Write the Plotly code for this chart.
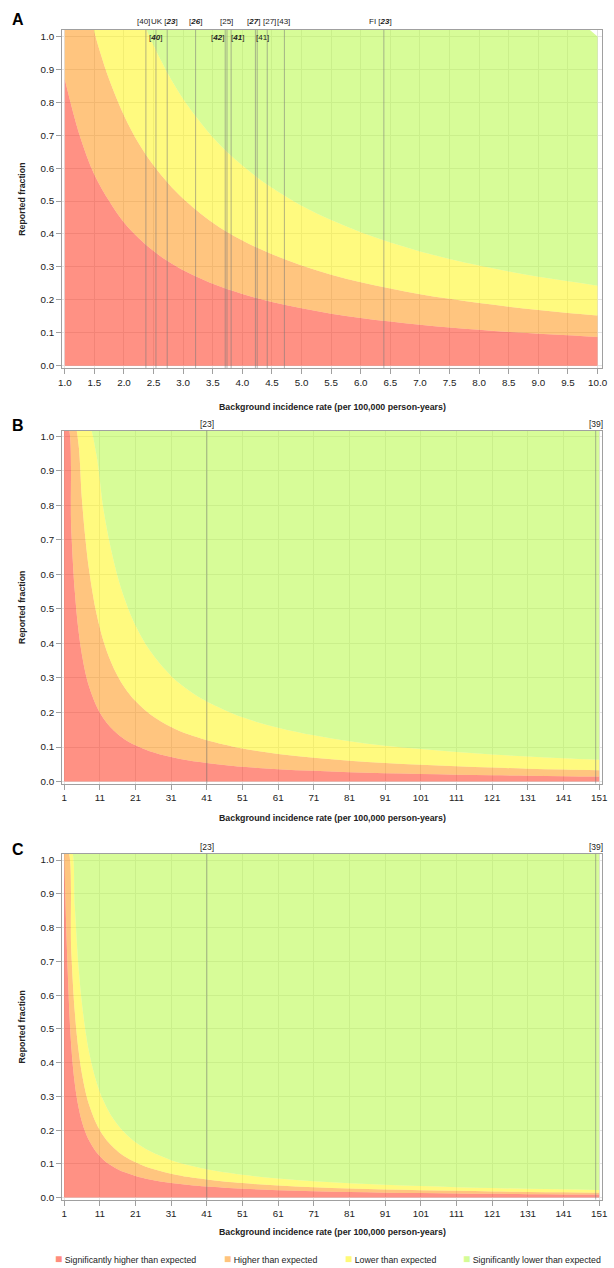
import plotly.graph_objects as go

# ------------------------------------------------------------------ data
# Panel A: background incidence rate 1-10 (upper edge of each category band)
A_sig_high_rate = [1.0, 1.25, 1.5, 1.75, 2.0, 2.25, 2.5, 2.75, 3.0, 3.5, 4.0, 4.5, 5.0,
                   5.5, 6.0, 6.5, 7.0, 7.5, 8.0, 8.5, 9.0, 9.5, 10.0]
A_sig_high = [0.87, 0.70, 0.58, 0.50, 0.435, 0.387, 0.348, 0.316, 0.29, 0.249, 0.218,
              0.193, 0.174, 0.158, 0.145, 0.134, 0.124, 0.116, 0.109, 0.102, 0.097,
              0.092, 0.087]
A_high_rate = [1.0, 1.45, 1.5, 1.6, 1.75, 2.0, 2.25, 2.5, 2.75, 3.0, 3.5, 4.0, 4.5, 5.0,
               5.5, 6.0, 6.5, 7.0, 7.5, 8.0, 8.5, 9.0, 9.5, 10.0]
A_high = [1.05, 1.05, 1.013, 0.95, 0.869, 0.76, 0.675, 0.608, 0.553, 0.507, 0.434, 0.38,
          0.338, 0.304, 0.276, 0.253, 0.234, 0.217, 0.203, 0.19, 0.179, 0.169, 0.16, 0.152]
A_low_rate = [1.0, 2.3, 2.4, 2.5, 2.75, 3.0, 3.5, 4.0, 4.5, 5.0, 5.5, 6.0, 6.5, 7.0,
              7.5, 8.0, 8.5, 9.0, 9.5, 10.0]
A_low = [1.057, 1.057, 1.0125, 0.972, 0.884, 0.81, 0.694, 0.608, 0.54, 0.486, 0.442,
         0.405, 0.374, 0.347, 0.324, 0.304, 0.286, 0.27, 0.256, 0.243]
A_top_rate = [1.0, 9.8, 10.0]
A_top = [1.03, 1.03, 1.0]

A_ref_rate = [2.37, 2.54, 2.73, 3.21, 3.71, 3.74, 3.81, 4.22, 4.25, 4.42, 4.71, 6.39]
A_ref_label = ["[40]", "[<b><i>40</i></b>]", "UK [<b><i>23</i></b>]", "[<b><i>26</i></b>]",
               "[<b><i>42</i></b>]", "[25]", "[<b><i>41</i></b>]", "[<b><i>27</i></b>]",
               "[41]", "[27]", "[43]", "FI [<b><i>23</i></b>]"]
A_ref_row = [1, 2, 1, 1, 2, 1, 2, 1, 2, 1, 1, 1]

# Panels B and C: background incidence rate 1-151
BC_rate = [1, 2, 3, 4, 5, 6, 7, 8, 10, 12, 14, 16, 18, 21, 25, 31, 36, 41, 51, 61,
           71, 81, 91, 101, 111, 121, 131, 141, 151]
B_sig_high = [1.03, 1.03, 0.733, 0.55, 0.44, 0.367, 0.314, 0.275, 0.22, 0.183, 0.157,
              0.1375, 0.122, 0.105, 0.088, 0.071, 0.061, 0.054, 0.043, 0.036, 0.031,
              0.027, 0.024, 0.022, 0.02, 0.018, 0.017, 0.0156, 0.0146]
B_high = [1.03, 1.03, 1.03, 1.03, 0.98, 0.817, 0.70, 0.6125, 0.49, 0.408, 0.35, 0.306,
          0.272, 0.233, 0.196, 0.158, 0.136, 0.12, 0.096, 0.08, 0.069, 0.0605, 0.054,
          0.0485, 0.044, 0.0405, 0.0374, 0.0348, 0.0325]
B_low = [1.03, 1.03, 1.03, 1.03, 1.03, 1.03, 1.03, 1.03, 0.95, 0.79, 0.68, 0.594,
         0.528, 0.452, 0.38, 0.306, 0.264, 0.232, 0.186, 0.156, 0.134, 0.117, 0.104,
         0.094, 0.0856, 0.0785, 0.0725, 0.0674, 0.063]
C_sig_high = [1.03, 0.675, 0.45, 0.3375, 0.27, 0.225, 0.193, 0.169, 0.135, 0.1125,
              0.0964, 0.0844, 0.075, 0.0643, 0.054, 0.0435, 0.0375, 0.033, 0.0265,
              0.0221, 0.019, 0.0167, 0.0148, 0.0134, 0.0122, 0.0112, 0.0103, 0.0096, 0.0089]
C_high = [1.03, 1.03, 0.733, 0.55, 0.44, 0.367, 0.314, 0.275, 0.22, 0.183, 0.157,
          0.1375, 0.122, 0.105, 0.088, 0.071, 0.061, 0.054, 0.043, 0.036, 0.031,
          0.027, 0.024, 0.022, 0.02, 0.018, 0.017, 0.0156, 0.0146]
C_low = [1.03, 1.03, 1.03, 0.8625, 0.69, 0.575, 0.493, 0.431, 0.345, 0.2875, 0.246,
         0.216, 0.192, 0.164, 0.138, 0.111, 0.096, 0.084, 0.0676, 0.0566, 0.0486,
         0.0426, 0.0379, 0.0342, 0.0311, 0.0285, 0.0263, 0.0245, 0.0228]
BC_top_rate = [1, 151]
BC_top = [1.03, 1.03]
BC_ref_rate = [41, 150]
BC_ref_label = ["[23]", "[39]"]

A_ticks = [1.0, 1.5, 2.0, 2.5, 3.0, 3.5, 4.0, 4.5, 5.0, 5.5, 6.0, 6.5, 7.0, 7.5,
           8.0, 8.5, 9.0, 9.5, 10.0]
BC_ticks = [1, 11, 21, 31, 41, 51, 61, 71, 81, 91, 101, 111, 121, 131, 141, 151]
Y_ticks = [0.0, 0.1, 0.2, 0.3, 0.4, 0.5, 0.6, 0.7, 0.8, 0.9, 1.0]

categories = ["Significantly higher than expected", "Higher than expected",
              "Lower than expected", "Significantly lower than expected"]

# ------------------------------------------------------------------ style
COLORS = ["rgba(255,35,10,0.5)", "rgba(255,140,0,0.5)",
          "rgba(255,245,0,0.5)", "rgba(175,250,50,0.5)"]
SOLID = ["rgb(255,140,125)", "rgb(255,195,125)", "rgb(255,250,120)", "rgb(212,252,150)"]
FONT = "Liberation Sans, Arial, sans-serif"
TXT = "#222"
W, H = 614, 1268

fig = go.Figure()


def add_panel(n, bands, top_rate, top):
    xa, ya = ("x", "y") if n == 1 else (f"x{n}", f"y{n}")
    for i, (r, b) in enumerate(bands):
        fig.add_trace(go.Scatter(
            x=r, y=b, mode="lines", line=dict(width=0, shape="spline", smoothing=1),
            fill="tozeroy" if i == 0 else "tonexty", fillcolor=COLORS[i],
            name=categories[i], showlegend=False, xaxis=xa, yaxis=ya, hoverinfo="skip"))
    fig.add_trace(go.Scatter(
        x=top_rate, y=top, mode="lines", line=dict(width=0), fill="tonexty",
        fillcolor=COLORS[3], name=categories[3], showlegend=False,
        xaxis=xa, yaxis=ya, hoverinfo="skip"))


add_panel(1, [(A_sig_high_rate, A_sig_high), (A_high_rate, A_high), (A_low_rate, A_low)],
          A_top_rate, A_top)
add_panel(2, [(BC_rate, B_sig_high), (BC_rate, B_high), (BC_rate, B_low)],
          BC_top_rate, BC_top)
add_panel(3, [(BC_rate, C_sig_high), (BC_rate, C_high), (BC_rate, C_low)],
          BC_top_rate, BC_top)

# panel frames in pixels
panels = {
    1: dict(top=30, bottom=369, xr=[0.955, 10.077], yr=[-0.0075, 1.0196], ticks=A_ticks, fmt=".1f"),
    2: dict(top=431.7, bottom=785.5, xr=[0.45, 151.8], yr=[-0.006, 1.016], ticks=BC_ticks, fmt="d"),
    3: dict(top=856, bottom=1202.5, xr=[0.45, 151.8], yr=[-0.006, 1.018], ticks=BC_ticks, fmt="d"),
}
LEFT, RIGHT = 59, 607

axis_common = dict(showline=True, linecolor="#a0a0a0", linewidth=1, mirror=True,
                   ticks="outside", ticklen=5, tickcolor="#a0a0a0",
                   showgrid=True, gridcolor="#e4e4e4", gridwidth=1, zeroline=False,
                   tickfont=dict(family=FONT, size=9.8, color=TXT))

layout = dict(width=W, height=H, margin=dict(l=0, r=0, t=0, b=0),
              paper_bgcolor="white", plot_bgcolor="white", showlegend=False,
              font=dict(family=FONT, color=TXT))
for n, p in panels.items():
    sx = "" if n == 1 else str(n)
    layout[f"xaxis{sx}"] = dict(axis_common, domain=[LEFT / W, RIGHT / W], range=p["xr"],
                                tickvals=p["ticks"], tickformat=p["fmt"],
                                anchor=f"y{sx}")
    layout[f"yaxis{sx}"] = dict(axis_common, domain=[1 - p["bottom"] / H, 1 - p["top"] / H],
                                range=p["yr"], tickvals=Y_ticks, tickformat=".1f",
                                anchor=f"x{sx}")
fig.update_layout(**layout)

# reference lines
for v in A_ref_rate:
    fig.add_shape(type="line", x0=v, x1=v, y0=0, y1=1, xref="x", yref="y domain",
                  line=dict(color="rgba(120,120,120,0.55)", width=1))
for n in (2, 3):
    for v in BC_ref_rate:
        fig.add_shape(type="line", x0=v, x1=v, y0=0, y1=1, xref=f"x{n}", yref=f"y{n} domain",
                      line=dict(color="rgba(120,120,120,0.55)", width=1))

ann = []
A_label_shift = [-2, 0, -3, 0, -8, 0, 6, -2, 5, 2, -1, -3]
for v, lab, row, dx in zip(A_ref_rate, A_ref_label, A_ref_row, A_label_shift):
    ann.append(dict(x=v, y=1, xref="x", yref="y domain", text=lab, showarrow=False,
                    xanchor="center", yanchor="middle", xshift=dx,
                    yshift=8 if row == 1 else -8,
                    font=dict(family=FONT, size=8, color=TXT)))
for n in (2, 3):
    for v, lab in zip(BC_ref_rate, BC_ref_label):
        ann.append(dict(x=v, y=1, xref=f"x{n}", yref=f"y{n} domain", text=lab,
                        showarrow=False, xanchor="center", yanchor="middle", yshift=7,
                        font=dict(family=FONT, size=8.5, color=TXT)))

# panel letters, axis titles
letters = [("A", 20), ("B", 427), ("C", 852)]
for t, ypx in letters:
    ann.append(dict(x=14 / W, y=1 - ypx / H, xref="paper", yref="paper", text=f"<b>{t}</b>",
                    showarrow=False, xanchor="center", yanchor="middle",
                    font=dict(family=FONT, size=16, color="#000")))
xtitle_y = {1: 408, 2: 820, 3: 1235}
for n, p in panels.items():
    ann.append(dict(x=(LEFT + RIGHT) / 2 / W, y=1 - xtitle_y[n] / H, xref="paper", yref="paper",
                    text="<b>Background incidence rate (per 100,000 person-years)</b>",
                    showarrow=False, xanchor="center", yanchor="middle",
                    font=dict(family=FONT, size=8.8, color=TXT)))
    ann.append(dict(x=18 / W, y=1 - (p["top"] + p["bottom"]) / 2 / H, xref="paper", yref="paper",
                    text="<b>Reported fraction</b>", textangle=-90, showarrow=False,
                    xanchor="center", yanchor="middle",
                    font=dict(family=FONT, size=8.8, color=TXT)))

# legend
legend_x = [50, 221, 344, 464]
for i, (cat, lx) in enumerate(zip(categories, legend_x)):
    ann.append(dict(x=lx / W, y=1 - 1262 / H, xref="paper", yref="paper",
                    text=f"<span style='color:{SOLID[i]};font-size:12px'>■</span> {cat}",
                    showarrow=False, xanchor="left", yanchor="middle",
                    font=dict(family=FONT, size=8.8, color=TXT)))

fig.update_layout(annotations=ann)
fig.write_html("out.html", config={"displayModeBar": False}, post_script=(
    "document.documentElement.style.margin='0';document.body.style.margin='0';"
    "document.body.style.padding='0';document.documentElement.style.overflow='hidden';"
    "document.body.style.overflow='hidden';"))
